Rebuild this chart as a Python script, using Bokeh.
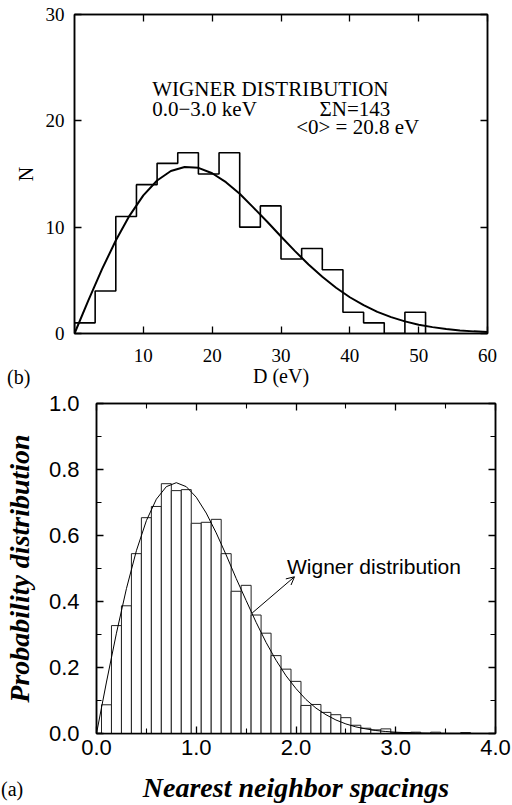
from bokeh.plotting import figure
from bokeh.models import Range1d, FixedTicker, LinearAxis, Label, Arrow, OpenHead, NumeralTickFormatter, Div
from bokeh.embed import file_html
from bokeh.resources import INLINE

# ---------------- panel (b): level spacings D (eV) ----------------
d_edges = [0, 3, 6, 9, 12, 15, 18, 21, 24, 27, 30, 33, 36, 39, 42, 45, 48, 51]
d_counts = [1, 4, 11, 14, 16, 17, 15, 17, 10, 12, 7, 8, 6, 2, 1, 0, 2]
d_curve_x = [0, 2, 4, 6, 8, 10, 12, 14, 16, 18, 20, 22, 24, 26, 28, 30,
             32, 34, 36, 38, 40, 42, 44, 46, 48, 50, 52, 54, 56, 58, 60]
d_curve_y = [0.0, 3.09, 6.05, 8.75, 11.09, 12.99, 14.39, 15.28, 15.66, 15.58, 15.07,
             14.23, 13.14, 11.84, 10.51, 9.12, 7.77, 6.49, 5.33, 4.30, 3.41,
             2.66, 2.04, 1.54, 1.14, 0.83, 0.60, 0.42, 0.29, 0.20, 0.14]
d_xticks = [10, 20, 30, 40, 50, 60]
d_yticks = [0, 10, 20, 30]

# ---------------- panel (a): nearest neighbour spacings ----------------
s_centers = [0.1, 0.2, 0.3, 0.4, 0.5, 0.6, 0.7, 0.8, 0.9, 1.0, 1.1, 1.2, 1.3,
             1.4, 1.5, 1.6, 1.7, 1.8, 1.9, 2.0, 2.1, 2.2, 2.3, 2.4, 2.5, 2.6,
             2.7, 2.8, 2.9, 3.0, 3.1, 3.2, 3.3, 3.4, 3.5, 3.6, 3.7]
s_heights = [0.087, 0.327, 0.387, 0.545, 0.654, 0.688, 0.757, 0.736, 0.739, 0.637,
             0.640, 0.649, 0.545, 0.431, 0.449, 0.359, 0.304, 0.236, 0.195, 0.158,
             0.085, 0.088, 0.064, 0.057, 0.048, 0.025, 0.016, 0.011, 0.014, 0.002,
             0.003, 0.004, 0.0, 0.004, 0.0, 0.0, 0.003]
s_curve_x = [0.0, 0.1, 0.2, 0.3, 0.4, 0.5, 0.6, 0.7, 0.8, 0.9, 1.0, 1.1, 1.2, 1.3,
             1.4, 1.5, 1.6, 1.7, 1.8, 1.9, 2.0, 2.1, 2.2, 2.3, 2.4, 2.5, 2.6, 2.7,
             2.8, 2.9, 3.0, 3.2, 3.4, 3.6, 4.0]
s_curve_y = [0.0, 0.156, 0.304, 0.439, 0.554, 0.645, 0.710, 0.748, 0.760, 0.748,
             0.716, 0.668, 0.608, 0.541, 0.470, 0.403, 0.337, 0.276, 0.222, 0.175,
             0.136, 0.103, 0.077, 0.057, 0.041, 0.029, 0.020, 0.014, 0.009, 0.006,
             0.004, 0.0016, 0.0006, 0.0002, 0.0]
s_xticks = [0, 1, 2, 3, 4]
s_xminor = [0.5, 1.5, 2.5, 3.5]
s_yticks = [0.0, 0.2, 0.4, 0.6, 0.8, 1.0]
s_yminor = [0.1, 0.3, 0.5, 0.7, 0.9]

SERIF = "Liberation Serif"
SANS = "Liberation Sans"


def style_axis(ax, ticks, minor, font, size, labels=True, standoff=10):
    ax.ticker = FixedTicker(ticks=ticks, minor_ticks=minor)
    ax.axis_line_color = "black"
    ax.axis_line_width = 1.5
    ax.major_tick_line_color = "black"
    ax.major_tick_line_width = 1.3
    ax.minor_tick_line_color = "black"
    ax.minor_tick_line_width = 1.1
    ax.major_tick_in = 7
    ax.major_tick_out = 0
    ax.minor_tick_in = 5
    ax.minor_tick_out = 0
    ax.major_label_text_font = font
    if labels:
        ax.major_label_text_color = "black"
        ax.major_label_text_font_size = size
        ax.major_label_standoff = standoff
    else:
        ax.major_label_text_color = None
        ax.major_label_text_font_size = "1px"
        ax.major_label_standoff = 0


# ---------------- top figure ----------------
p1 = figure(frame_width=413, frame_height=319, x_range=Range1d(0, 60), y_range=Range1d(0, 30),
            output_backend="svg", toolbar_location=None,
            min_border_left=74, min_border_right=24, min_border_top=14, min_border_bottom=58)
p1.grid.visible = False
p1.outline_line_color = "black"
p1.outline_line_width = 1.5
p1.background_fill_color = "white"
p1.border_fill_color = "white"

style_axis(p1.xaxis[0], d_xticks, [], SERIF, "19px", True, 15)
style_axis(p1.yaxis[0], d_yticks, [], SERIF, "19px", True, 10)
p1.xaxis[0].axis_label = "D (eV)"
p1.yaxis[0].axis_label = "N"
for ax in (p1.xaxis[0], p1.yaxis[0]):
    ax.axis_label_text_font = SERIF
    ax.axis_label_text_font_size = "20px"
    ax.axis_label_text_font_style = "normal"
    ax.axis_label_text_color = "black"
p1.xaxis[0].axis_label_standoff = 0
p1.yaxis[0].axis_label_standoff = 6

top_ax = LinearAxis()
style_axis(top_ax, d_xticks, [], SERIF, "19px", False)
p1.add_layout(top_ax, "above")
right_ax = LinearAxis()
style_axis(right_ax, d_yticks, [], SERIF, "19px", False)
p1.add_layout(right_ax, "right")

step_x = [d_edges[0]] + d_edges
step_y = [0] + d_counts + [0]
p1.step(step_x, step_y, mode="after", line_color="black", line_width=1.6)
p1.line(d_curve_x, d_curve_y, line_color="black", line_width=2)

for txt, x, y in [("WIGNER DISTRIBUTION", 11.3, 23.0),
                  ("0.0\u22123.0 keV", 11.3, 21.1),
                  ("\u03a3N=143", 35.6, 21.1),
                  ("<0> = 20.8 eV", 32.2, 19.4)]:
    p1.add_layout(Label(x=x, y=y, text=txt, text_font=SERIF, text_font_size="21px",
                        text_baseline="middle", text_align="left", text_color="black"))

# ---------------- bottom figure ----------------
p2 = figure(frame_width=399, frame_height=330, x_range=Range1d(0, 4), y_range=Range1d(0, 1),
            output_backend="svg", toolbar_location=None,
            min_border_left=96, min_border_right=16, min_border_top=12, min_border_bottom=70)
p2.grid.visible = False
p2.outline_line_color = "black"
p2.outline_line_width = 1.5
p2.background_fill_color = "white"
p2.border_fill_color = "white"

style_axis(p2.xaxis[0], s_xticks, s_xminor, SANS, "22px", True, 6)
style_axis(p2.yaxis[0], s_yticks, s_yminor, SANS, "22px", True, 17)
p2.xaxis[0].formatter = NumeralTickFormatter(format="0.0")
p2.yaxis[0].formatter = NumeralTickFormatter(format="0.0")
p2.xaxis[0].axis_label = "Nearest neighbor spacings"
p2.yaxis[0].axis_label = "Probability distribution"
for ax in (p2.xaxis[0], p2.yaxis[0]):
    ax.axis_label_text_font = SERIF
    ax.axis_label_text_font_size = "28px"
    ax.axis_label_text_font_style = "bold italic"
    ax.axis_label_text_color = "black"
p2.xaxis[0].axis_label_standoff = 14
p2.yaxis[0].axis_label_standoff = 11

top_ax2 = LinearAxis()
style_axis(top_ax2, s_xticks, s_xminor, SANS, "22px", False)
p2.add_layout(top_ax2, "above")
right_ax2 = LinearAxis()
style_axis(right_ax2, s_yticks, s_yminor, SANS, "22px", False)
p2.add_layout(right_ax2, "right")

p2.vbar(x=s_centers, top=s_heights, bottom=0, width=0.1, fill_color="white",
        line_color="#222222", line_width=1)
p2.line(s_curve_x, s_curve_y, line_color="black", line_width=1)

p2.add_layout(Arrow(end=OpenHead(size=8, line_width=1, line_color="black"),
                    x_start=1.56, y_start=0.365, x_end=1.985, y_end=0.475,
                    line_width=1, line_color="black"))
p2.add_layout(Label(x=1.91, y=0.505, text="Wigner distribution", text_font=SANS,
                    text_font_size="21px", text_baseline="middle", text_align="left",
                    text_color="black"))

# panel tags (outside the plot frames)
tag_style = {"position": "absolute", "font-family": "Liberation Serif", "font-size": "20px",
             "color": "black", "line-height": "20px", "margin": "0", "padding": "0"}
tag_b = Div(text="(b)", styles=dict(tag_style, left="7px", top="367px"))
tag_a = Div(text="(a)", styles=dict(tag_style, left="1px", top="779px"))

open("out.html", "w").write(file_html([p1, p2, tag_b, tag_a], INLINE))
